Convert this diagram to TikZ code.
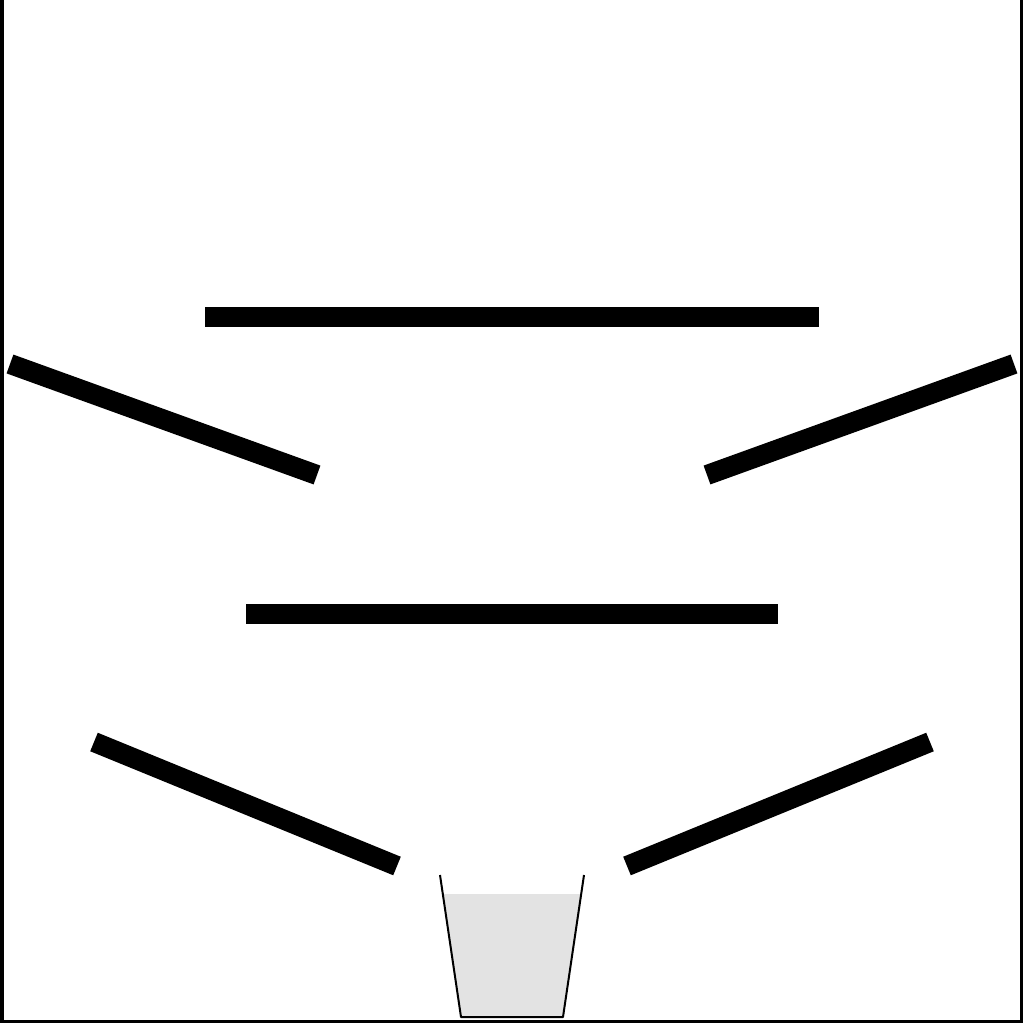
\documentclass[tikz,border=0pt]{standalone}
\usepackage{tikz}

\begin{document}
\begin{tikzpicture}[x=0.01cm, y=-0.01cm,
	shelf/.style={line width=0.2cm, black},
	wall/.style={line width=0.035cm, black},
	cup/.style={line width=0.02cm, black, line join=round}]
	\useasboundingbox (0,0) rectangle (1024,1024);
	\draw[wall] (2,0) -- (2,1021.5) -- (1021.5,1021.5) -- (1021.5,0);
	\draw[shelf] (205,317) -- (819,317);
	\draw[shelf] (10,364) -- (317,475);
	\draw[shelf] (1014,364) -- (707,475);
	\draw[shelf] (246,614) -- (778,614);
	\draw[shelf] (94,742) -- (397,866);
	\draw[shelf] (930,742) -- (627,866);
	\fill[black!11] (443,894) -- (461,1017) -- (563,1017) -- (581,894) -- cycle;
	\draw[cup] (440,875) -- (461,1017) -- (563,1017) -- (584,875);
\end{tikzpicture}
\end{document}
